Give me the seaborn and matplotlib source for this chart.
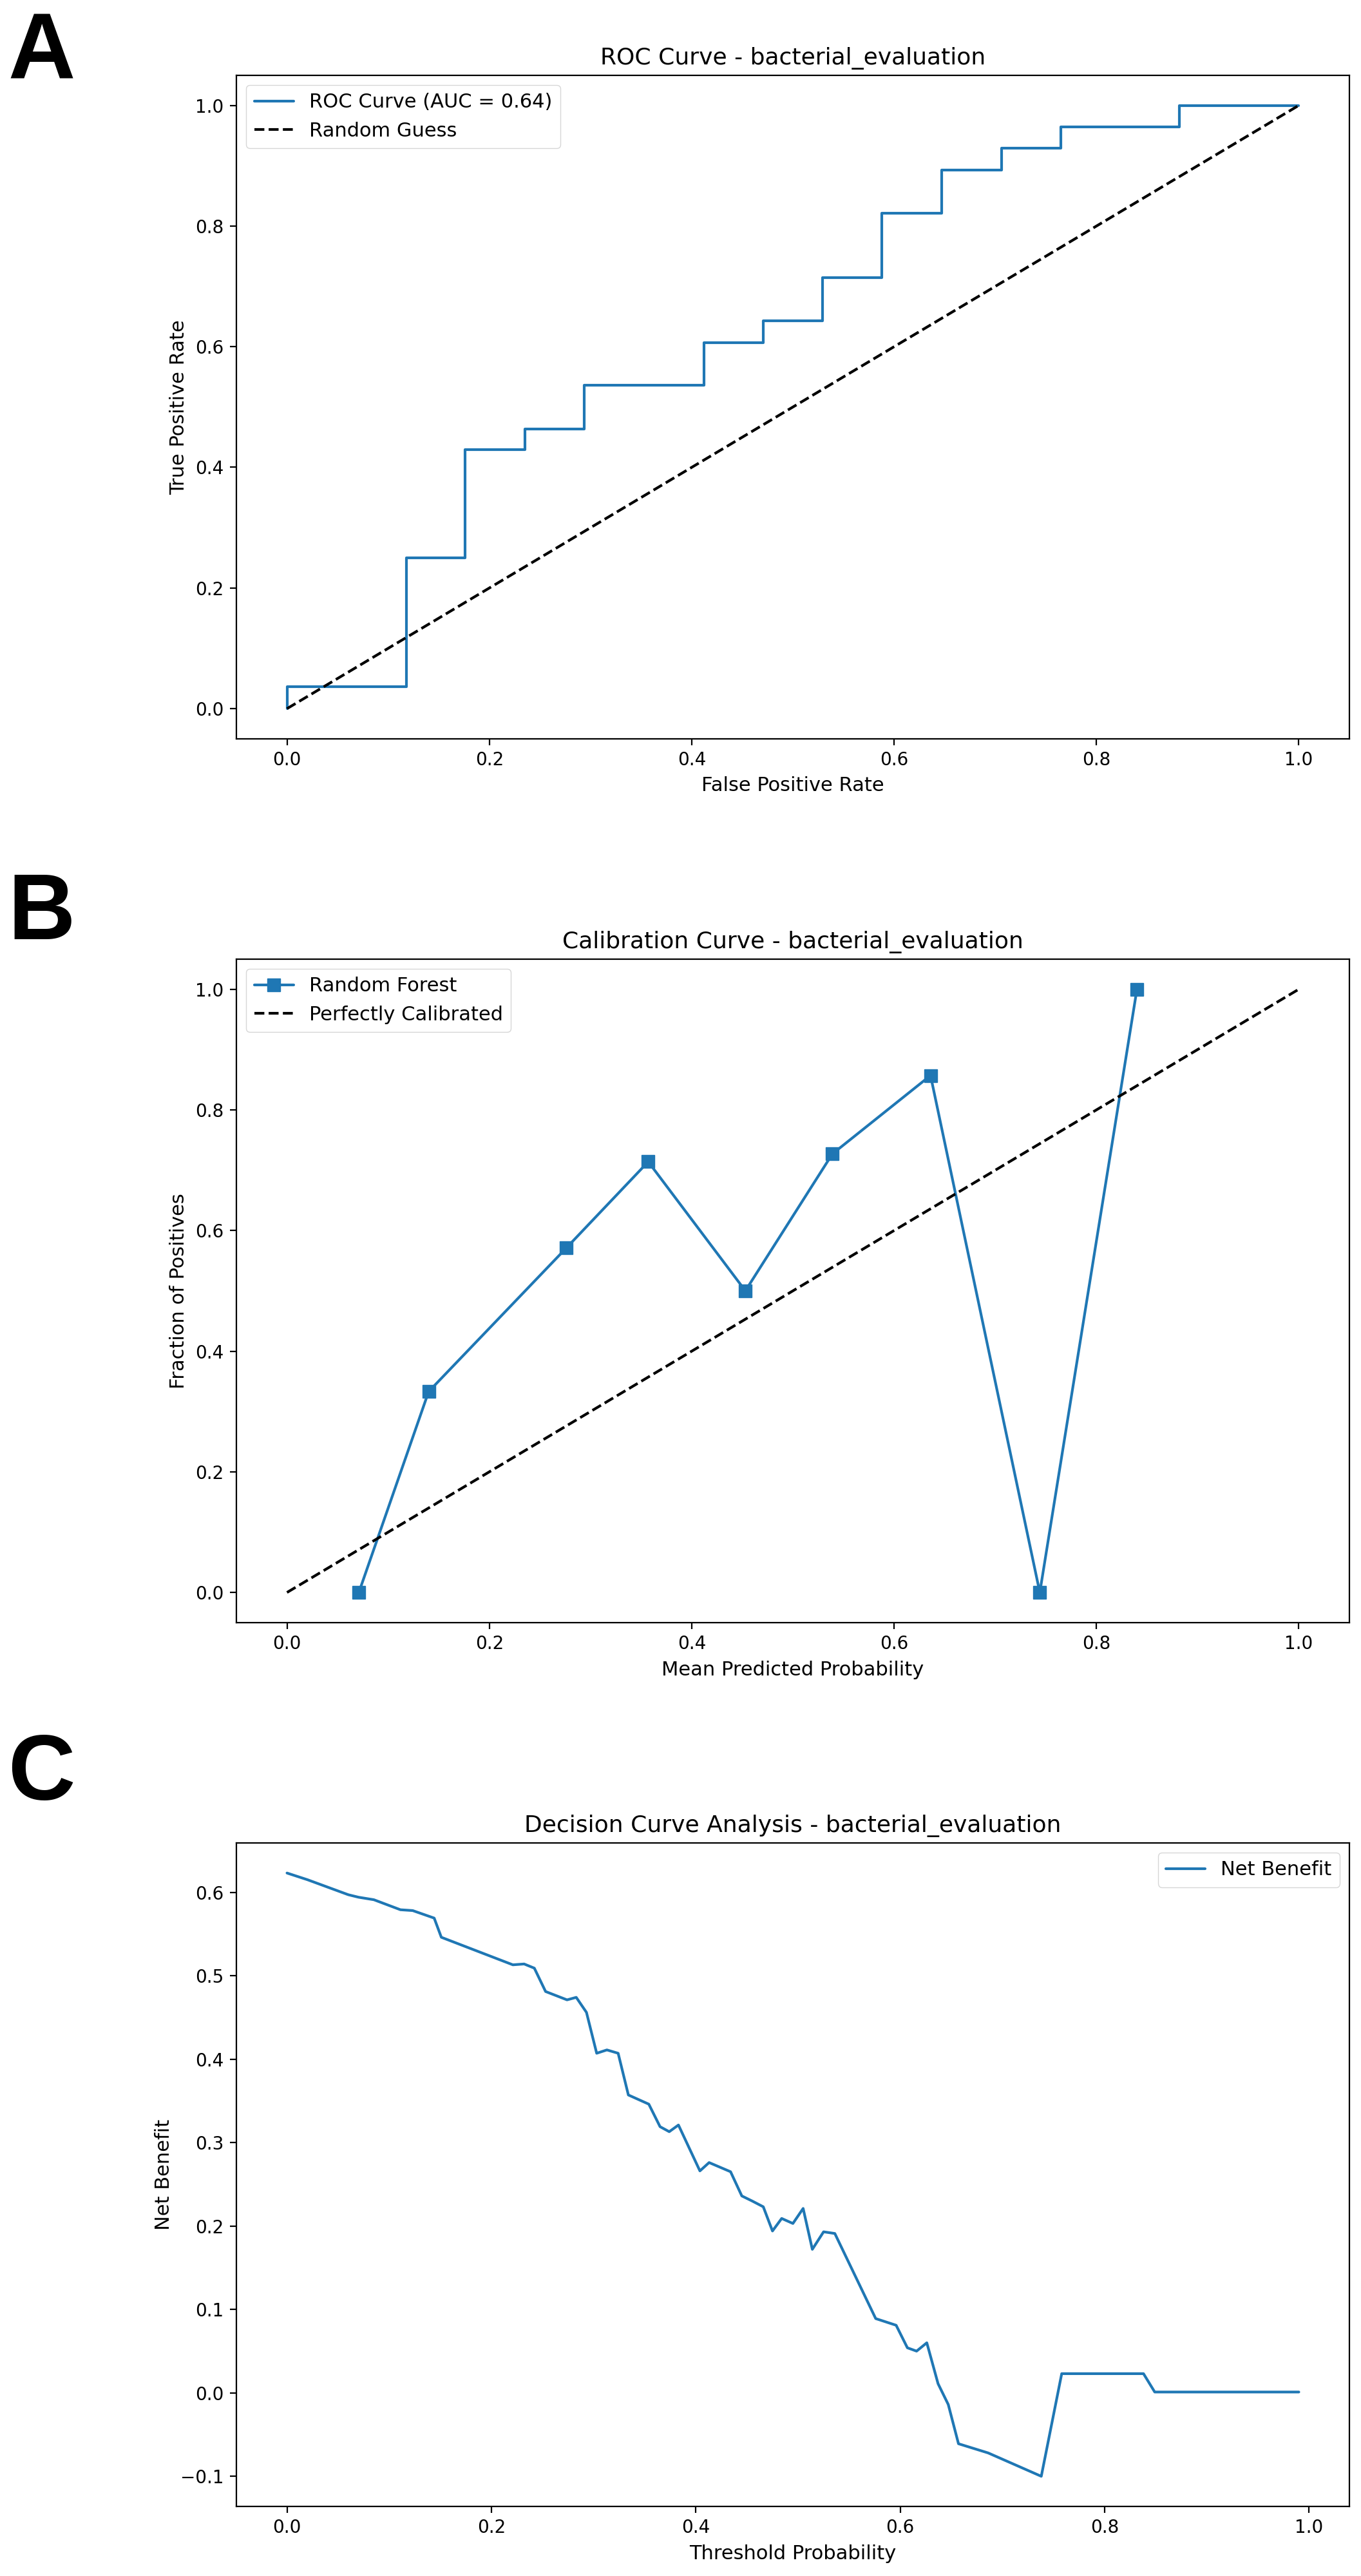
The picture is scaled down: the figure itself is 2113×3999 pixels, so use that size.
import matplotlib
matplotlib.use("Agg")
import matplotlib.pyplot as plt
import seaborn as sns
import pandas as pd

# ROC curve vertices (step curve)
roc_fpr = [0.0, 0.0, 0.118, 0.118, 0.176, 0.176, 0.235, 0.235, 0.294, 0.294,
           0.412, 0.412, 0.471, 0.471, 0.529, 0.529, 0.588, 0.588, 0.647, 0.647,
           0.706, 0.706, 0.765, 0.765, 0.882, 0.882, 1.0]
roc_tpr = [0.0, 0.036, 0.036, 0.25, 0.25, 0.429, 0.429, 0.464, 0.464, 0.536,
           0.536, 0.607, 0.607, 0.643, 0.643, 0.714, 0.714, 0.821, 0.821, 0.893,
           0.893, 0.929, 0.929, 0.964, 0.964, 1.0, 1.0]
roc_auc = 0.64

# calibration curve bins
cal_pred = [0.071, 0.140, 0.276, 0.357, 0.453, 0.539, 0.636, 0.744, 0.840]
cal_frac = [0.0, 0.333, 0.571, 0.714, 0.5, 0.727, 0.857, 0.0, 1.0]

# decision curve
dca_thr = [0.0, 0.02, 0.04, 0.06, 0.07, 0.085, 0.111, 0.123, 0.144, 0.151,
           0.221, 0.232, 0.242, 0.253, 0.274, 0.283, 0.293, 0.303, 0.313, 0.324,
           0.334, 0.354, 0.365, 0.374, 0.383, 0.404, 0.413, 0.434, 0.445, 0.455,
           0.466, 0.475, 0.484, 0.495, 0.505, 0.514, 0.525, 0.536, 0.576, 0.596,
           0.607, 0.616, 0.626, 0.637, 0.647, 0.657, 0.686, 0.738, 0.758, 0.838,
           0.849, 0.99]
dca_nb = [0.623, 0.615, 0.606, 0.597, 0.594, 0.591, 0.579, 0.578, 0.569, 0.546,
          0.513, 0.514, 0.509, 0.481, 0.471, 0.474, 0.456, 0.407, 0.411, 0.407,
          0.357, 0.346, 0.319, 0.313, 0.321, 0.266, 0.276, 0.265, 0.236, 0.230,
          0.223, 0.194, 0.209, 0.203, 0.221, 0.172, 0.193, 0.191, 0.089, 0.081,
          0.054, 0.050, 0.060, 0.011, -0.014, -0.061, -0.072, -0.100, 0.023, 0.023,
          0.001, 0.001]

name = "bacterial_evaluation"
blue = "#1f77b4"

sns.set_theme(style="ticks")
plt.rcParams.update({
    "font.family": ["DejaVu Sans"],
    "axes.edgecolor": "black",
    "axes.linewidth": 1.6,
    "text.color": "black",
    "axes.labelcolor": "black",
    "xtick.color": "black",
    "ytick.color": "black",
    "xtick.labelsize": 20,
    "ytick.labelsize": 20,
    "axes.labelsize": 22,
    "axes.titlesize": 26,
    "axes.titlepad": 12,
    "legend.fontsize": 22,
    "xtick.major.size": 7,
    "ytick.major.size": 7,
    "xtick.major.width": 1.6,
    "ytick.major.width": 1.6,
    "xtick.major.pad": 7,
    "ytick.major.pad": 7,
    "axes.labelpad": 8,
})

fig = plt.figure(figsize=(21.13, 39.99), dpi=100)
left, width, height = 0.1737, 0.8178, 0.2576
ax1 = fig.add_axes([left, 0.7132, width, height])
ax2 = fig.add_axes([left, 0.3701, width, height])
ax3 = fig.add_axes([left, 0.0270, width, height])

leg_kw = dict(frameon=True, fancybox=True, framealpha=0.8, edgecolor="0.8")

# A - ROC
roc_df = pd.DataFrame({"fpr": roc_fpr, "tpr": roc_tpr})
sns.lineplot(data=roc_df, x="fpr", y="tpr", ax=ax1, estimator=None, sort=False,
             color=blue, linewidth=3.0, label=f"ROC Curve (AUC = {roc_auc:.2f})")
sns.lineplot(x=[0, 1], y=[0, 1], ax=ax1, color="black", linestyle="--",
             linewidth=3.0, label="Random Guess")
ax1.set_title(f"ROC Curve - {name}")
ax1.set_xlabel("False Positive Rate")
ax1.set_ylabel("True Positive Rate")
ax1.legend(loc="upper left", **leg_kw)

# B - calibration
cal_df = pd.DataFrame({"pred": cal_pred, "frac": cal_frac})
sns.lineplot(data=cal_df, x="pred", y="frac", ax=ax2, estimator=None, sort=False,
             color=blue, linewidth=3.0, marker="s", markersize=14,
             markeredgecolor=blue, markeredgewidth=1, label="Random Forest")
sns.lineplot(x=[0, 1], y=[0, 1], ax=ax2, color="black", linestyle="--",
             linewidth=3.0, label="Perfectly Calibrated")
ax2.set_title(f"Calibration Curve - {name}")
ax2.set_xlabel("Mean Predicted Probability")
ax2.set_ylabel("Fraction of Positives")
ax2.legend(loc="upper left", **leg_kw)

# C - decision curve
dca_df = pd.DataFrame({"thr": dca_thr, "nb": dca_nb})
sns.lineplot(data=dca_df, x="thr", y="nb", ax=ax3, estimator=None, sort=False,
             color=blue, linewidth=3.0, label="Net Benefit")
ax3.set_title(f"Decision Curve Analysis - {name}")
ax3.set_xlabel("Threshold Probability")
ax3.set_ylabel("Net Benefit")
ax3.legend(loc="upper right", **leg_kw)

for ax in (ax1, ax2, ax3):
    for side in ("top", "right", "left", "bottom"):
        ax.spines[side].set_visible(True)

# panel letters
for letter, base in zip("ABC", [121, 1458, 2794]):
    fig.text(12 / 2113, 1 - base / 3999, letter, fontsize=104,
             fontweight="bold", family=["Liberation Sans", "DejaVu Sans"],
             va="baseline", ha="left")

fig.savefig("out.png", dpi=100)
